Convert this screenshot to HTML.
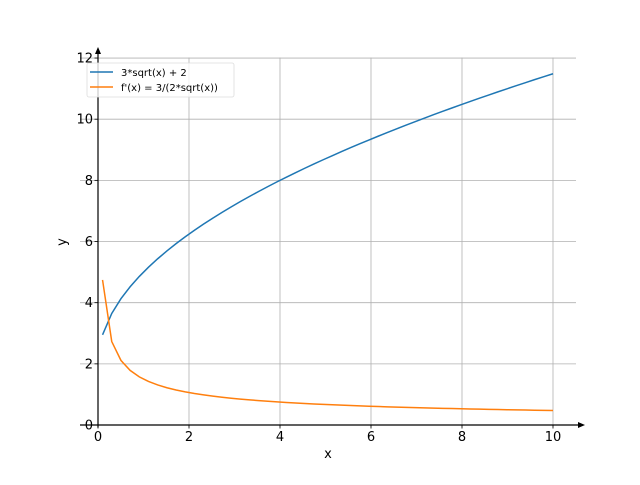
<!DOCTYPE html>
<html><head><meta charset="utf-8"><style>
html,body{margin:0;padding:0;background:#fff}
svg text{font-family:"DejaVu Sans","Liberation Sans",sans-serif}
</style></head><body>
<svg id="s" width="640" height="480" xmlns="http://www.w3.org/2000/svg">
<rect width="640" height="480" fill="#fff"/>
<g id="grid" stroke="#b0b0b0" stroke-width="0.8"></g>
<path id="p1" fill="none" stroke="#1f77b4" stroke-width="1.5"/>
<path id="p2" fill="none" stroke="#ff7f0e" stroke-width="1.5"/>
<g stroke="#000" stroke-width="1.2">
<line x1="98" y1="427.5" x2="98" y2="52"/>
<line x1="80" y1="425" x2="580" y2="425"/>
</g>
<polygon points="98,47 95,54 101,54" fill="#000"/>
<polygon points="585,425 578,422 578,428" fill="#000"/>
<g id="ticks" stroke="#000" stroke-width="0.8"></g>
<g id="lbl" font-size="13" fill="#000"></g>
<text x="328" y="458" font-size="13" text-anchor="middle">x</text>
<text x="66" y="242" font-size="13" text-anchor="middle" transform="rotate(-90 66 242)">y</text>
<rect x="87" y="63" width="147" height="34" rx="2" fill="#fff" fill-opacity="0.8" stroke="#ddd" stroke-width="0.8"/>
<line x1="90" y1="72" x2="113" y2="72" stroke="#1f77b4" stroke-width="1.5"/>
<line x1="90" y1="87" x2="113" y2="87" stroke="#ff7f0e" stroke-width="1.5"/>
<text x="121" y="76" font-size="10">3*sqrt(x) + 2</text>
<text x="121" y="91" font-size="10">f'(x) = 3/(2*sqrt(x))</text>
</svg>
<script>
var NS="http://www.w3.org/2000/svg";
function X(x){return 98+45.5*x}function Y(y){return 425-30.58*y}
function el(p,t,a){var e=document.createElementNS(NS,t);for(var k in a)e.setAttribute(k,a[k]);p.appendChild(e);return e}
var g=document.getElementById('grid'),tk=document.getElementById('ticks'),lb=document.getElementById('lbl');
for(var i=0;i<=10;i+=2){el(g,'line',{x1:X(i),x2:X(i),y1:57.6,y2:427.2});el(tk,'line',{x1:X(i),x2:X(i),y1:425,y2:428.5});
var t=el(lb,'text',{x:X(i),y:441,'text-anchor':'middle'});t.textContent=i;}
for(var j=0;j<=12;j+=2){el(g,'line',{x1:80,x2:576,y1:Y(j),y2:Y(j)});el(tk,'line',{x1:94.5,x2:98,y1:Y(j),y2:Y(j)});
var t=el(lb,'text',{x:93,y:Y(j)+4.5,'text-anchor':'end'});t.textContent=j;}
var d1='',d2='';
for(var k=0;k<50;k++){var x=0.1+k*(9.9/49);d1+=(k?'L':'M')+X(x).toFixed(2)+','+Y(3*Math.sqrt(x)+2).toFixed(2);
d2+=(k?'L':'M')+X(x).toFixed(2)+','+Y(3/(2*Math.sqrt(x))).toFixed(2);}
document.getElementById('p1').setAttribute('d',d1);document.getElementById('p2').setAttribute('d',d2);
</script>
</body></html>
